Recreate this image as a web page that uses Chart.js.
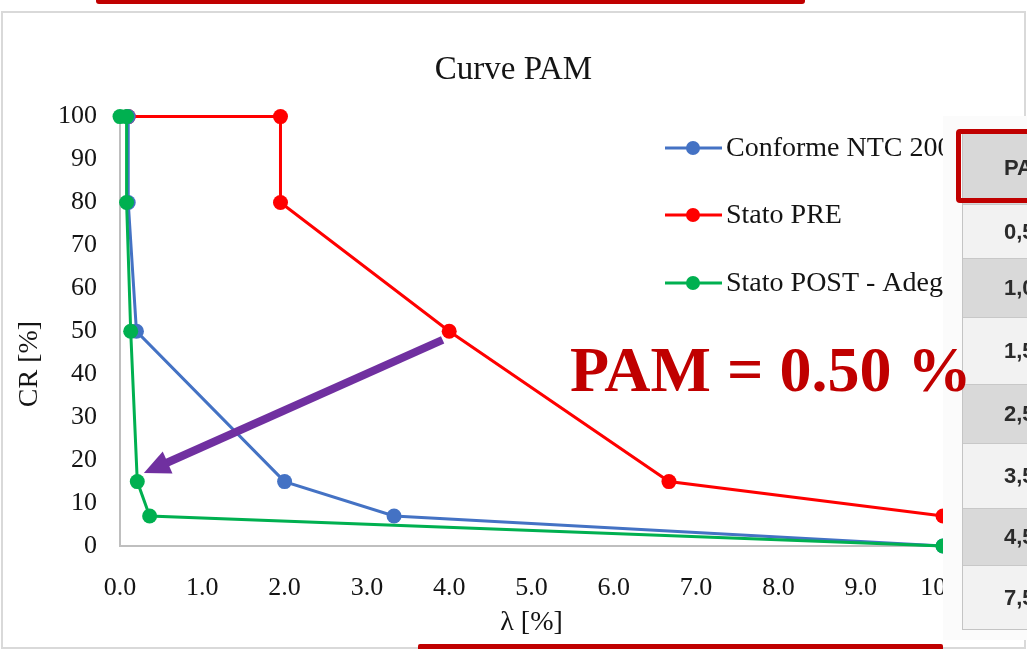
<!DOCTYPE html>
<html>
<head>
<meta charset="utf-8">
<script src="https://cdn.jsdelivr.net/npm/chart.js@4.4.1/dist/chart.umd.min.js"></script>
<style>
  html, body { margin: 0; padding: 0; background: #fff; width: 1027px; height: 649px; overflow: hidden; }
  #frame { position: absolute; left: 1px; top: 11px; width: 1021px; height: 634px; border: 2px solid #d9d9d9; }
  #chartBox { position: absolute; left: 0; top: 0; width: 1027px; height: 649px; }
  .bar { position: absolute; background: #c00000; }
  #barTop { left: 96px; top: 0; width: 709px; height: 4px; border-radius: 0 0 3px 3px; }
  #barBottom { left: 418px; top: 644px; width: 525px; height: 5px; border-radius: 2px 2px 0 0; }
  #side { position: absolute; left: 943px; top: 116px; width: 84px; height: 524px; background: #fbfbfb; overflow: hidden; }
  #classTable { position: absolute; left: 19px; top: 14px; width: 120px; border: 1px solid #c4c4c4; filter: blur(0.6px);
                font-family: 'Liberation Sans', Arial, sans-serif; font-weight: bold; font-size: 22px; color: #2b2b2b; }
  #classTable div { box-sizing: border-box; padding-left: 41px; white-space: nowrap; display: flex; align-items: center; border-top: 1px solid #c8c8c8; }
  #classTable .head { background: #d8d8d8; border-top: none; }
  #classTable .light { background: #f2f2f2; }
  #classTable .dark { background: #d9d9d9; }
  #headMark { position: absolute; left: 13px; top: 13px; width: 120px; height: 64px; border: 5px solid #c00000; border-radius: 4px; }
  #pam { position: absolute; left: 570px; top: 338px; font-family: 'Times New Roman', 'Liberation Serif', serif; font-weight: bold;
         font-size: 64px; line-height: 64px; color: #c00000; white-space: nowrap; }
</style>
</head>
<body>
<div id="frame"></div>
<div class="bar" id="barTop"></div>
<div id="chartBox"><canvas id="c" width="1027" height="649"></canvas></div>
<div id="side">
  <div id="classTable"></div>
  <div id="headMark"></div>
</div>
<div class="bar" id="barBottom"></div>
<div id="pam">PAM = 0.50 %</div>

<script>
// PAM curves: expected annual loss λ [%] against repair cost CR [%]
const lambdaConforme = [0.10, 0.10, 0.20, 2.00, 3.33, 10.0];
const crConforme     = [100, 80, 50, 15, 7, 0];
const lambdaPre      = [0.10, 1.95, 1.95, 4.00, 6.67, 10.0];
const crPre          = [100, 100, 80, 50, 15, 7];
const lambdaPost     = [0.00, 0.08, 0.08, 0.13, 0.21, 0.36, 10.0];
const crPost         = [100, 100, 80, 50, 15, 7, 0];

const seriesNames  = ['Conforme NTC 2008', 'Stato PRE', 'Stato POST - Adeguamento'];
const seriesColors = ['#4472c4', '#ff0000', '#00b050'];

// Arrow from the PRE curve towards the retrofitted curve (data coordinates)
const arrowFrom = { x: 3.92, y: 48 };
const arrowTo   = { x: 0.29, y: 17 };

// PAM class thresholds shown in the side table
const pamHeader  = 'PAM';
const pamClasses = ['0,50% < PAM ≤ 1,00%', '1,00% < PAM ≤ 1,50%', '1,50% < PAM ≤ 2,50%',
                    '2,50% < PAM ≤ 3,50%', '3,50% < PAM ≤ 4,50%', '4,50% < PAM ≤ 7,50%', '7,50% ≤ PAM'];

const xTickStep = 1;
const yTickStep = 10;

// ---- side table ----
(function buildTable() {
  const t = document.getElementById('classTable');
  const rowHeights = [54, 59, 67, 59, 65, 57, 64];
  const h = document.createElement('div');
  h.className = 'head'; h.style.height = '73px'; h.textContent = pamHeader;
  t.appendChild(h);
  pamClasses.forEach((txt, i) => {
    const r = document.createElement('div');
    r.className = i % 2 === 0 ? 'light' : 'dark';
    r.style.height = rowHeights[i] + 'px';
    r.textContent = txt;
    t.appendChild(r);
  });
})();

const serif = "'Times New Roman', 'Liberation Serif', serif";
const textColor = '#141414';
const yTitle = 'CR [%]';

function toPoints(xs, ys) { return xs.map((x, i) => ({ x: x, y: ys[i] })); }

const legendPlugin = {
  id: 'insideLegend',
  afterDraw(chart) {
    const ctx = chart.ctx;
    const rows = [148, 215, 283];
    ctx.save();
    chart.data.datasets.forEach((ds, i) => {
      const y = rows[i];
      ctx.strokeStyle = ds.borderColor;
      ctx.lineWidth = 3;
      ctx.beginPath(); ctx.moveTo(665, y); ctx.lineTo(722, y); ctx.stroke();
      ctx.fillStyle = ds.borderColor;
      ctx.beginPath(); ctx.arc(693, y, 7, 0, Math.PI * 2); ctx.fill();
      ctx.fillStyle = textColor;
      ctx.font = '28px ' + serif;
      ctx.textBaseline = 'middle';
      ctx.textAlign = 'left';
      ctx.fillText(ds.label, 726, y + 1);
    });
    ctx.restore();
  }
};

// vertical axis title, placed a little below the middle of the axis
const yTitlePlugin = {
  id: 'yTitle',
  afterDraw(chart) {
    const ctx = chart.ctx;
    ctx.save();
    ctx.translate(30, 364);
    ctx.rotate(-Math.PI / 2);
    ctx.fillStyle = textColor;
    ctx.font = '28px ' + serif;
    ctx.textAlign = 'center';
    ctx.textBaseline = 'middle';
    ctx.fillText(yTitle, 0, 0);
    ctx.restore();
  }
};

const arrowPlugin = {
  id: 'arrow',
  afterDatasetsDraw(chart) {
    const xs = chart.scales.x, ys = chart.scales.y, ctx = chart.ctx;
    const x0 = xs.getPixelForValue(arrowFrom.x), y0 = ys.getPixelForValue(arrowFrom.y);
    const x1 = xs.getPixelForValue(arrowTo.x),   y1 = ys.getPixelForValue(arrowTo.y);
    const len = Math.hypot(x1 - x0, y1 - y0);
    const ux = (x1 - x0) / len, uy = (y1 - y0) / len;
    const headLen = 26, headHalf = 12;
    const bx = x1 - ux * headLen, by = y1 - uy * headLen;
    ctx.save();
    ctx.strokeStyle = '#7030a0';
    ctx.fillStyle = '#7030a0';
    ctx.lineWidth = 8;
    ctx.lineCap = 'butt';
    ctx.beginPath(); ctx.moveTo(x0, y0); ctx.lineTo(bx + ux * 2, by + uy * 2); ctx.stroke();
    ctx.beginPath();
    ctx.moveTo(x1, y1);
    ctx.lineTo(bx - uy * headHalf, by + ux * headHalf);
    ctx.lineTo(bx + uy * headHalf, by - ux * headHalf);
    ctx.closePath(); ctx.fill();
    ctx.restore();
  }
};

const lambdas = [lambdaConforme, lambdaPre, lambdaPost];
const crs = [crConforme, crPre, crPost];
const drawOrder = [1, 2, 0]; // retrofitted curve on top

new Chart(document.getElementById('c'), {
  type: 'line',
  data: {
    datasets: seriesNames.map((name, i) => ({
      label: name,
      data: toPoints(lambdas[i], crs[i]),
      borderColor: seriesColors[i],
      backgroundColor: seriesColors[i],
      pointBackgroundColor: seriesColors[i],
      pointBorderWidth: 0,
      pointRadius: 7.5,
      borderWidth: 3,
      tension: 0,
      clip: false,
      order: drawOrder[i]
    }))
  },
  options: {
    responsive: false,
    animation: false,
    events: [],
    layout: { padding: 0 },
    plugins: {
      legend: { display: false },
      tooltip: { enabled: false },
      title: {
        display: true,
        text: 'Curve PAM',
        color: textColor,
        font: { family: serif, size: 33, weight: 'normal' },
        padding: { top: 51, bottom: 26 }
      }
    },
    scales: {
      x: {
        type: 'linear',
        min: 0, max: 10,
        grid: { display: false },
        border: { display: true, color: '#bfbfbf', width: 2 },
        ticks: { stepSize: xTickStep, padding: 19, maxRotation: 0, autoSkip: false,
                 color: textColor, font: { family: serif, size: 26 },
                 callback: v => Number(v).toFixed(1) },
        title: { display: true, text: 'λ [%]', color: textColor,
                 font: { family: serif, size: 28 }, padding: { top: 0, bottom: 10 } },
        afterFit: s => { s.height = 103; }
      },
      y: {
        type: 'linear',
        min: 0, max: 100,
        grid: { display: false },
        border: { display: true, color: '#bfbfbf', width: 2 },
        ticks: { stepSize: yTickStep, padding: 15, color: textColor, font: { family: serif, size: 26 } },
        title: { display: false },
        afterFit: s => { s.width = 120; }
      },
      y2: {
        type: 'linear', position: 'right',
        grid: { display: false },
        border: { display: false },
        ticks: { display: false },
        afterFit: s => { s.width = 84; }
      }
    }
  },
  plugins: [arrowPlugin, legendPlugin, yTitlePlugin]
});
</script>
</body>
</html>
